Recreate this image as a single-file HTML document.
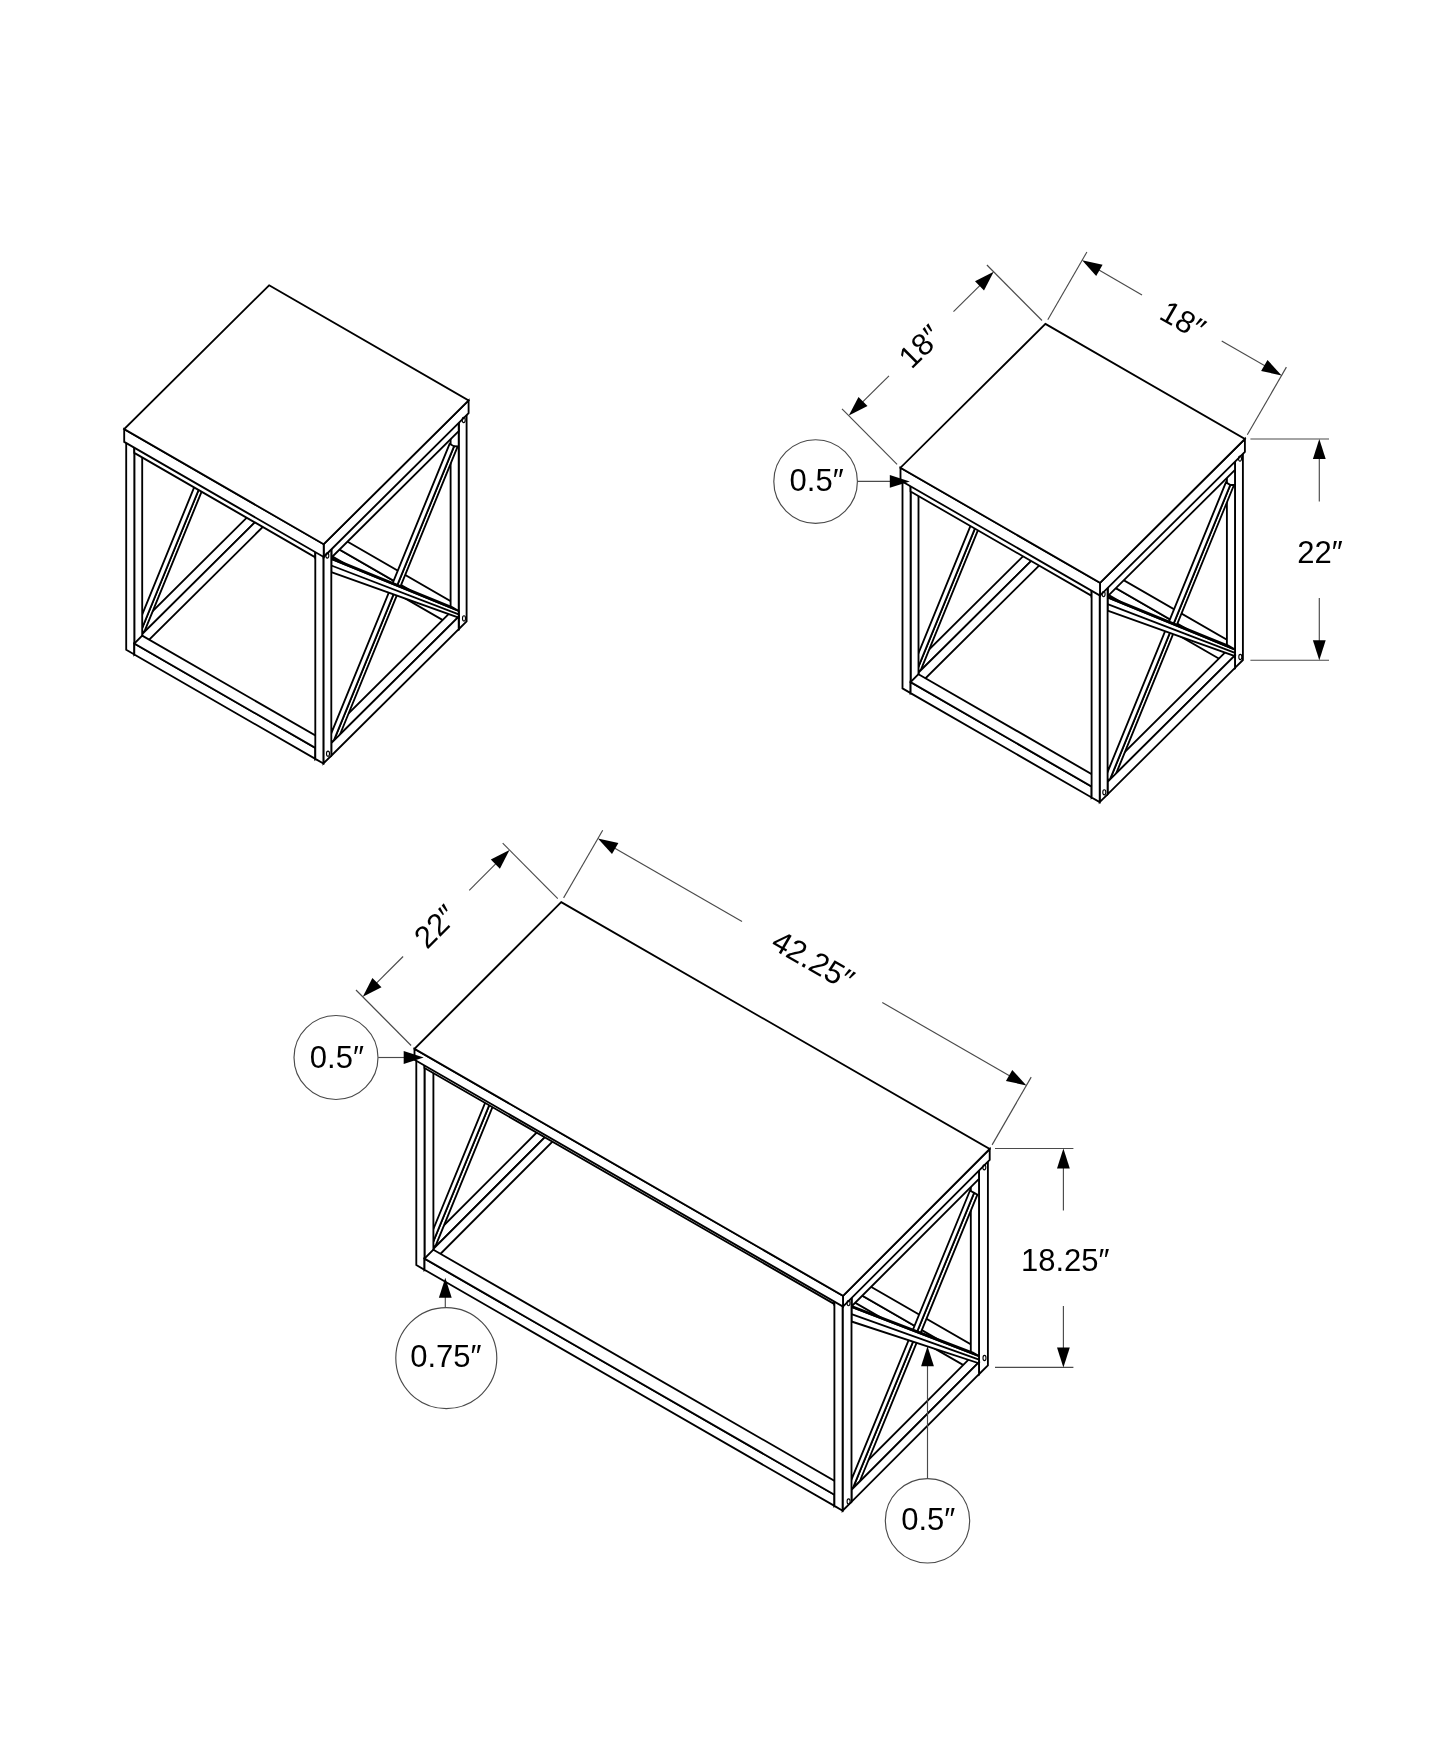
<!DOCTYPE html>
<html><head><meta charset="utf-8"><style>
html,body{margin:0;padding:0;background:#fff;}
svg{display:block;will-change:transform;}
.t path{fill:#fff;stroke:#000;stroke-width:1.85;stroke-linejoin:miter;}
text{font-family:"Liberation Sans",sans-serif;fill:#000;}
</style></head><body>
<svg width="1445" height="1754" viewBox="0 0 1445 1754">
<g class="t" id="t1">
<path d="M277.5 304.3 L269.6 312.1 L269.6 520.2 L277.5 512.3Z"/>
<path d="M261.5 307.4 L269.6 312.1 L269.6 520.2 L261.5 515.5Z"/>
<path d="M269.4 299.6 L277.5 304.3 L269.6 312.1 L261.5 307.4Z"/>
<path d="M261.5 503.0 L269.6 507.7 L142.2 634.1 L134.1 629.5Z"/>
<path d="M269.6 312.1 L142.2 438.6 L142.2 448.6 L269.6 322.1Z"/>
<path d="M134.1 433.9 L142.2 438.6 L142.2 448.6 L134.1 443.9Z"/>
<path d="M261.5 307.4 L269.6 312.1 L142.2 438.6 L134.1 433.9Z"/>
<path d="M144.8 630.7 L272.3 318.7 L266.0 324.9 L138.5 637.0Z"/>
<path d="M134.1 634.4 L261.5 322.4 L266.0 324.9 L138.5 637.0Z"/>
<path d="M269.6 507.7 L142.2 634.1 L142.2 646.6 L269.6 520.2Z"/>
<path d="M458.5 408.7 L450.6 416.5 L450.6 423.0 L458.5 415.2Z"/>
<path d="M269.6 312.1 L450.6 416.5 L450.6 423.0 L269.6 318.6Z"/>
<path d="M277.5 304.3 L458.5 408.7 L450.6 416.5 L269.6 312.1Z"/>
<path d="M458.5 605.7 L450.6 613.6 L450.6 624.6 L458.5 616.7Z"/>
<path d="M269.6 509.2 L450.6 613.6 L450.6 624.6 L269.6 520.2Z"/>
<path d="M277.5 501.3 L458.5 605.7 L450.6 613.6 L269.6 509.2Z"/>
<path d="M142.2 438.6 L134.3 446.4 L134.3 654.5 L142.2 646.6Z"/>
<path d="M126.2 441.7 L134.3 446.4 L134.3 654.5 L126.2 649.8Z"/>
<path d="M134.1 433.9 L142.2 438.6 L134.3 446.4 L126.2 441.7Z"/>
<path d="M466.6 413.4 L458.7 421.2 L458.7 629.2 L466.6 621.4Z"/>
<path d="M450.6 416.5 L458.7 421.2 L458.7 629.2 L450.6 624.6Z"/>
<path d="M458.5 408.7 L466.6 413.4 L458.7 421.2 L450.6 416.5Z"/>
<path d="M323.2 543.0 L315.3 550.8 L315.3 557.3 L323.2 549.5Z"/>
<path d="M134.3 446.4 L315.3 550.8 L315.3 557.3 L134.3 452.9Z"/>
<path d="M142.2 438.6 L323.2 543.0 L315.3 550.8 L134.3 446.4Z"/>
<path d="M323.2 740.0 L315.3 747.9 L315.3 758.9 L323.2 751.0Z"/>
<path d="M134.3 643.5 L315.3 747.9 L315.3 758.9 L134.3 654.5Z"/>
<path d="M142.2 635.6 L323.2 740.0 L315.3 747.9 L134.3 643.5Z"/>
<path d="M450.6 612.1 L458.7 616.7 L331.3 743.2 L323.2 738.5Z"/>
<path d="M339.6 735.5 L457.7 446.4 L454.0 446.3 L333.3 741.8Z"/>
<path d="M328.9 739.2 L449.6 443.8 L454.0 446.3 L333.3 741.8Z"/>
<path d="M331.3 572.1 L458.7 617.6 L458.7 611.0 L331.3 558.8Z"/>
<path d="M331.3 565.5 L458.7 614.3"/>
<path d="M324.6 555.0 L452.0 607.1 L458.7 611.0 L331.3 558.8Z"/>
<path d="M458.7 421.2 L331.3 547.7 L331.3 557.7 L458.7 431.2Z"/>
<path d="M323.2 543.0 L331.3 547.7 L331.3 557.7 L323.2 553.0Z"/>
<path d="M450.6 416.5 L458.7 421.2 L331.3 547.7 L323.2 543.0Z"/>
<path d="M458.7 616.7 L331.3 743.2 L331.3 755.7 L458.7 629.2Z"/>
<path d="M331.3 547.7 L323.4 555.5 L323.4 763.5 L331.3 755.7Z"/>
<path d="M315.3 550.8 L323.4 555.5 L323.4 763.5 L315.3 758.9Z"/>
<path d="M323.2 543.0 L331.3 547.7 L323.4 555.5 L315.3 550.8Z"/>
<path d="M468.6 400.4 L323.7 544.2 L323.7 557.0 L468.6 413.2Z"/>
<path d="M124.2 429.1 L323.7 544.2 L323.7 557.0 L124.2 441.9Z"/>
<path d="M269.1 285.3 L468.6 400.4 L323.7 544.2 L124.2 429.1Z"/>
</g>
<use href="#t1" transform="translate(776.3,38.6)"/>
<g class="t" id="t3">
<path d="M569.8 919.0 L560.9 927.8 L560.9 1133.2 L569.8 1124.4Z"/>
<path d="M552.7 923.1 L560.9 927.8 L560.9 1133.2 L552.7 1128.5Z"/>
<path d="M561.6 914.2 L569.8 919.0 L560.9 927.8 L552.7 923.1Z"/>
<path d="M552.7 1116.5 L560.9 1121.2 L433.4 1248.9 L425.2 1244.1Z"/>
<path d="M560.9 927.8 L433.4 1055.5 L433.4 1065.5 L560.9 937.8Z"/>
<path d="M425.2 1050.7 L433.4 1055.5 L433.4 1065.5 L425.2 1060.7Z"/>
<path d="M552.7 923.1 L560.9 927.8 L433.4 1055.5 L425.2 1050.7Z"/>
<path d="M436.0 1244.9 L563.5 933.9 L556.6 940.8 L429.1 1251.8Z"/>
<path d="M425.0 1249.5 L552.5 938.5 L556.6 940.8 L429.1 1251.8Z"/>
<path d="M560.9 1121.2 L433.4 1248.9 L433.4 1260.9 L560.9 1133.2Z"/>
<path d="M979.7 1155.2 L970.8 1164.0 L970.8 1167.6 L979.7 1158.8Z"/>
<path d="M560.9 927.8 L970.8 1164.0 L970.8 1167.6 L560.9 931.4Z"/>
<path d="M569.8 919.0 L979.7 1155.2 L970.8 1164.0 L560.9 927.8Z"/>
<path d="M979.7 1349.4 L970.8 1358.2 L970.8 1369.4 L979.7 1360.6Z"/>
<path d="M560.9 1122.0 L970.8 1358.2 L970.8 1369.4 L560.9 1133.2Z"/>
<path d="M569.8 1113.2 L979.7 1349.4 L970.8 1358.2 L560.9 1122.0Z"/>
<path d="M433.4 1055.5 L424.5 1064.4 L424.5 1269.8 L433.4 1260.9Z"/>
<path d="M416.3 1059.6 L424.5 1064.4 L424.5 1269.8 L416.3 1265.0Z"/>
<path d="M425.2 1050.7 L433.4 1055.5 L424.5 1064.4 L416.3 1059.6Z"/>
<path d="M987.9 1159.9 L979.0 1168.8 L979.0 1374.2 L987.9 1365.3Z"/>
<path d="M970.8 1164.0 L979.0 1168.8 L979.0 1374.2 L970.8 1369.4Z"/>
<path d="M979.7 1155.2 L987.9 1159.9 L979.0 1168.8 L970.8 1164.0Z"/>
<path d="M843.3 1291.7 L834.4 1300.5 L834.4 1304.1 L843.3 1295.3Z"/>
<path d="M424.5 1064.4 L834.4 1300.5 L834.4 1304.1 L424.5 1068.0Z"/>
<path d="M433.4 1055.5 L843.3 1291.7 L834.4 1300.5 L424.5 1064.4Z"/>
<path d="M843.3 1485.9 L834.4 1494.7 L834.4 1505.9 L843.3 1497.1Z"/>
<path d="M424.5 1258.6 L834.4 1494.7 L834.4 1505.9 L424.5 1269.8Z"/>
<path d="M433.4 1249.7 L843.3 1485.9 L834.4 1494.7 L424.5 1258.6Z"/>
<path d="M970.8 1357.4 L979.0 1362.2 L851.5 1489.8 L843.3 1485.1Z"/>
<path d="M859.7 1481.5 L977.4 1194.6 L974.1 1192.9 L852.8 1488.4Z"/>
<path d="M848.8 1486.1 L970.0 1190.5 L974.1 1192.9 L852.8 1488.4Z"/>
<path d="M851.5 1321.5 L979.0 1363.3 L979.0 1356.1 L851.5 1307.0Z"/>
<path d="M851.5 1314.2 L979.0 1359.7"/>
<path d="M845.4 1303.5 L972.9 1352.6 L979.0 1356.1 L851.5 1307.0Z"/>
<path d="M979.0 1168.8 L851.5 1296.4 L851.5 1306.4 L979.0 1178.8Z"/>
<path d="M843.3 1291.7 L851.5 1296.4 L851.5 1306.4 L843.3 1301.7Z"/>
<path d="M970.8 1164.0 L979.0 1168.8 L851.5 1296.4 L843.3 1291.7Z"/>
<path d="M979.0 1362.2 L851.5 1489.8 L851.5 1501.8 L979.0 1374.2Z"/>
<path d="M851.5 1296.4 L842.6 1305.3 L842.6 1510.7 L851.5 1501.8Z"/>
<path d="M834.4 1300.5 L842.6 1305.3 L842.6 1510.7 L834.4 1505.9Z"/>
<path d="M843.3 1291.7 L851.5 1296.4 L842.6 1305.3 L834.4 1300.5Z"/>
<path d="M989.7 1149.0 L843.0 1295.8 L843.0 1306.6 L989.7 1159.8Z"/>
<path d="M414.5 1048.9 L843.0 1295.8 L843.0 1306.6 L414.5 1059.7Z"/>
<path d="M561.2 902.1 L989.7 1149.0 L843.0 1295.8 L414.5 1048.9Z"/>
</g>
<g id="ann">
<line x1="1042.0" y1="320.5" x2="986.9" y2="265.0" stroke="#4a4a4a" stroke-width="1.15" fill="none"/>
<line x1="897.1" y1="464.3" x2="842.0" y2="408.8" stroke="#4a4a4a" stroke-width="1.15" fill="none"/>
<line x1="986.6" y1="278.8" x2="953.5" y2="311.7" stroke="#4a4a4a" stroke-width="1.15" fill="none"/>
<line x1="889.0" y1="375.8" x2="855.9" y2="408.6" stroke="#4a4a4a" stroke-width="1.15" fill="none"/>
<path d="M993.7 271.8 L984.0 290.4 L975.0 281.3Z" fill="#000"/>
<path d="M848.8 415.6 L858.5 397.0 L867.5 406.1Z" fill="#000"/>
<text x="0" y="10.7" text-anchor="middle" font-size="31" transform="translate(920.2,346.5) rotate(-44.78)">18″</text>
<line x1="1047.8" y1="319.7" x2="1086.9" y2="252.0" stroke="#4a4a4a" stroke-width="1.15" fill="none"/>
<line x1="1247.3" y1="434.8" x2="1286.4" y2="367.1" stroke="#4a4a4a" stroke-width="1.15" fill="none"/>
<line x1="1090.8" y1="265.3" x2="1142.0" y2="294.9" stroke="#4a4a4a" stroke-width="1.15" fill="none"/>
<line x1="1221.7" y1="340.9" x2="1272.9" y2="370.4" stroke="#4a4a4a" stroke-width="1.15" fill="none"/>
<path d="M1082.1 260.3 L1102.6 264.8 L1096.2 275.9Z" fill="#000"/>
<path d="M1281.6 375.4 L1261.1 371.0 L1267.5 359.9Z" fill="#000"/>
<text x="0" y="10.7" text-anchor="middle" font-size="31" transform="translate(1182.8,320.1) rotate(29.98)">18″</text>
<line x1="1250.4" y1="439.0" x2="1329.0" y2="439.0" stroke="#4a4a4a" stroke-width="1.15" fill="none"/>
<line x1="1250.4" y1="660.2" x2="1329.0" y2="660.2" stroke="#4a4a4a" stroke-width="1.15" fill="none"/>
<line x1="1319.3" y1="451.0" x2="1319.3" y2="501.5" stroke="#4a4a4a" stroke-width="1.15" fill="none"/>
<line x1="1319.3" y1="597.9" x2="1319.3" y2="648.2" stroke="#4a4a4a" stroke-width="1.15" fill="none"/>
<path d="M1319.3 439.0 L1325.7 459.0 L1312.9 459.0Z" fill="#000"/>
<path d="M1319.3 660.2 L1312.9 640.2 L1325.7 640.2Z" fill="#000"/>
<text x="0" y="10.7" text-anchor="middle" font-size="31" transform="translate(1320.0,552.4) rotate(0.00)">22″</text>
<circle cx="815.6" cy="481.5" r="41.8" stroke="#4a4a4a" stroke-width="1.15" fill="none"/>
<text x="0" y="10.7" text-anchor="middle" font-size="31" transform="translate(816.6,480.1) rotate(0.00)">0.5″</text>
<line x1="857.4" y1="481.4" x2="890.0" y2="481.4" stroke="#4a4a4a" stroke-width="1.15" fill="none"/>
<path d="M909.8 481.4 L889.8 487.8 L889.8 475.0Z" fill="#000"/>
<line x1="557.8" y1="898.7" x2="502.7" y2="843.2" stroke="#4a4a4a" stroke-width="1.15" fill="none"/>
<line x1="411.1" y1="1045.5" x2="356.0" y2="990.0" stroke="#4a4a4a" stroke-width="1.15" fill="none"/>
<line x1="502.4" y1="857.1" x2="469.2" y2="890.3" stroke="#4a4a4a" stroke-width="1.15" fill="none"/>
<line x1="403.1" y1="956.5" x2="369.9" y2="989.7" stroke="#4a4a4a" stroke-width="1.15" fill="none"/>
<path d="M509.5 850.0 L499.9 868.7 L490.8 859.6Z" fill="#000"/>
<path d="M362.8 996.8 L372.4 978.1 L381.5 987.2Z" fill="#000"/>
<text x="0" y="10.7" text-anchor="middle" font-size="31" transform="translate(435.6,926.4) rotate(-45.02)">22″</text>
<line x1="563.6" y1="897.9" x2="602.7" y2="830.2" stroke="#4a4a4a" stroke-width="1.15" fill="none"/>
<line x1="992.1" y1="1144.9" x2="1031.2" y2="1077.1" stroke="#4a4a4a" stroke-width="1.15" fill="none"/>
<line x1="606.6" y1="843.5" x2="742.0" y2="921.5" stroke="#4a4a4a" stroke-width="1.15" fill="none"/>
<line x1="882.3" y1="1002.4" x2="1017.7" y2="1080.4" stroke="#4a4a4a" stroke-width="1.15" fill="none"/>
<path d="M597.9 838.5 L618.4 843.0 L612.0 854.1Z" fill="#000"/>
<path d="M1026.4 1085.4 L1005.9 1081.0 L1012.3 1069.9Z" fill="#000"/>
<text x="0" y="10.7" text-anchor="middle" font-size="31" transform="translate(813.1,960.3) rotate(29.95)">42.25″</text>
<line x1="995.0" y1="1148.5" x2="1073.4" y2="1148.5" stroke="#4a4a4a" stroke-width="1.15" fill="none"/>
<line x1="995.0" y1="1367.4" x2="1073.4" y2="1367.4" stroke="#4a4a4a" stroke-width="1.15" fill="none"/>
<line x1="1063.4" y1="1160.5" x2="1063.4" y2="1210.6" stroke="#4a4a4a" stroke-width="1.15" fill="none"/>
<line x1="1063.4" y1="1306.1" x2="1063.4" y2="1355.4" stroke="#4a4a4a" stroke-width="1.15" fill="none"/>
<path d="M1063.4 1148.5 L1069.8 1168.5 L1057.0 1168.5Z" fill="#000"/>
<path d="M1063.4 1367.4 L1057.0 1347.4 L1069.8 1347.4Z" fill="#000"/>
<text x="0" y="10.7" text-anchor="middle" font-size="31" transform="translate(1065.2,1260.5) rotate(0.00)">18.25″</text>
<circle cx="336.0" cy="1057.5" r="42.0" stroke="#4a4a4a" stroke-width="1.15" fill="none"/>
<text x="0" y="10.7" text-anchor="middle" font-size="31" transform="translate(336.9,1056.9) rotate(0.00)">0.5″</text>
<line x1="378.2" y1="1057.5" x2="404.0" y2="1057.5" stroke="#4a4a4a" stroke-width="1.15" fill="none"/>
<path d="M423.7 1057.5 L403.7 1063.9 L403.7 1051.1Z" fill="#000"/>
<circle cx="446.3" cy="1358.1" r="50.5" stroke="#4a4a4a" stroke-width="1.15" fill="none"/>
<text x="0" y="10.7" text-anchor="middle" font-size="31" transform="translate(445.9,1356.3) rotate(0.00)">0.75″</text>
<line x1="445.3" y1="1307.6" x2="445.3" y2="1297.0" stroke="#4a4a4a" stroke-width="1.15" fill="none"/>
<path d="M445.3 1277.8 L451.7 1297.8 L438.9 1297.8Z" fill="#000"/>
<circle cx="927.5" cy="1520.8" r="42.2" stroke="#4a4a4a" stroke-width="1.15" fill="none"/>
<text x="0" y="10.7" text-anchor="middle" font-size="31" transform="translate(928.3,1519.2) rotate(0.00)">0.5″</text>
<line x1="927.5" y1="1478.6" x2="927.5" y2="1364.7" stroke="#4a4a4a" stroke-width="1.15" fill="none"/>
<path d="M927.5 1346.3 L933.9 1366.3 L921.1 1366.3Z" fill="#000"/>
<ellipse cx="327.3" cy="555.5" rx="1.5" ry="2.6" fill="none" stroke="#000" stroke-width="1.1"/>
<ellipse cx="328.0" cy="753.7" rx="1.5" ry="2.6" fill="none" stroke="#000" stroke-width="1.1"/>
<ellipse cx="463.7" cy="420.0" rx="1.5" ry="2.6" fill="none" stroke="#000" stroke-width="1.1"/>
<ellipse cx="464.0" cy="618.4" rx="1.5" ry="2.6" fill="none" stroke="#000" stroke-width="1.1"/>
<ellipse cx="1103.6" cy="594.1" rx="1.5" ry="2.6" fill="none" stroke="#000" stroke-width="1.1"/>
<ellipse cx="1104.3" cy="792.3" rx="1.5" ry="2.6" fill="none" stroke="#000" stroke-width="1.1"/>
<ellipse cx="1240.0" cy="458.6" rx="1.5" ry="2.6" fill="none" stroke="#000" stroke-width="1.1"/>
<ellipse cx="1240.3" cy="657.0" rx="1.5" ry="2.6" fill="none" stroke="#000" stroke-width="1.1"/>
<ellipse cx="848.5" cy="1303.1" rx="1.5" ry="2.6" fill="none" stroke="#000" stroke-width="1.1"/>
<ellipse cx="848.6" cy="1501.5" rx="1.5" ry="2.6" fill="none" stroke="#000" stroke-width="1.1"/>
<ellipse cx="984.3" cy="1167.3" rx="1.5" ry="2.6" fill="none" stroke="#000" stroke-width="1.1"/>
<ellipse cx="984.5" cy="1358.0" rx="1.5" ry="2.6" fill="none" stroke="#000" stroke-width="1.1"/>
</g>
</svg>
</body></html>
